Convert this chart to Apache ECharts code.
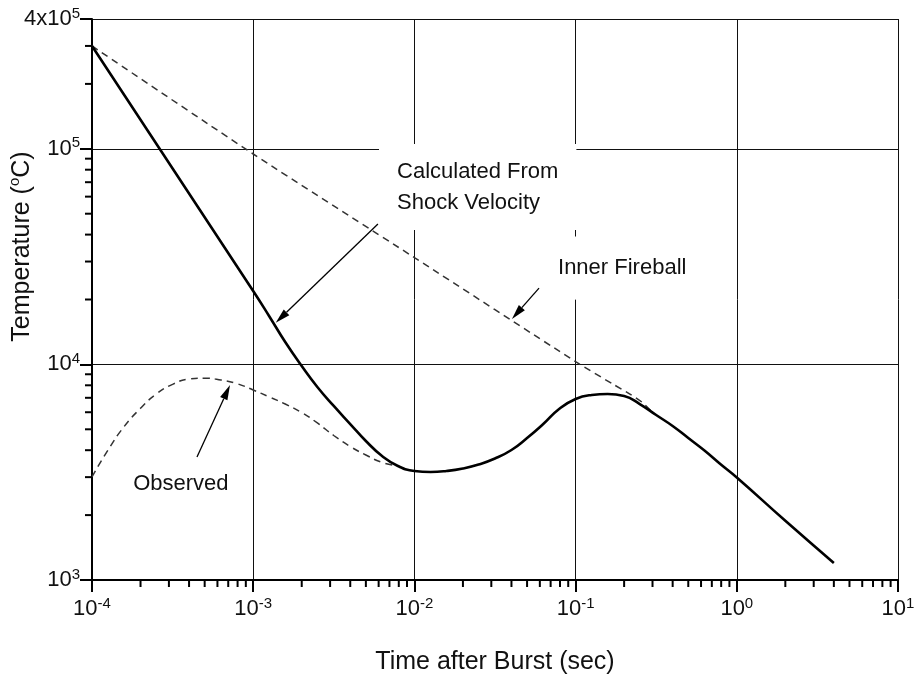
<!DOCTYPE html>
<html>
<head>
<meta charset="utf-8">
<script src="https://cdn.jsdelivr.net/npm/echarts@6/dist/echarts.min.js"></script>
<style>
  html, body { margin: 0; padding: 0; background: #fff; }
  #chart { width: 917px; height: 677px; }
</style>
</head>
<body>
<div id="chart"></div>
<script>
// Fireball temperature history: time after burst (s) vs temperature (°C)

// Calculated from shock velocity, continuing into the thermal pulse (solid)
const shockTime = [1e-4, 1e-3, 1.26e-3, 1.58e-3, 2e-3, 2.5e-3, 3.16e-3, 4e-3, 5e-3, 6.3e-3, 7.9e-3,
  1e-2, 1.26e-2, 1.58e-2, 2e-2, 2.5e-2, 3.16e-2, 4e-2, 5e-2, 6.3e-2, 7.9e-2,
  0.1, 0.126, 0.158, 0.2, 0.25, 0.316, 0.4, 0.5, 0.63, 0.79, 1, 2, 4];
const shockTemp = [3.0e5, 2.19e4, 1.668e4, 1.27e4, 9830, 7860, 6415, 5290, 4413, 3760, 3380,
  3203, 3169, 3203, 3290, 3433, 3660, 4009, 4556, 5290, 6211,
  6910, 7213, 7290, 7136, 6550, 5825, 5180, 4556, 3986, 3452, 2988, 1882, 1199];

// Inner fireball (dashed)
const innerTime = [1e-4, 1e-3, 1e-2, 0.1, 0.17, 0.22, 0.26, 0.3];
const innerTemp = [3.0e5, 9.46e4, 3.13e4, 1.03e4, 8110, 7250, 6650, 5990];

// Observed apparent temperature (dashed)
const obsTime = [1e-4, 1.26e-4, 1.58e-4, 2e-4, 2.5e-4, 3.16e-4, 4e-4, 5e-4, 6.3e-4, 7.9e-4,
  1e-3, 1.26e-3, 1.58e-3, 2e-3, 2.5e-3, 3.16e-3, 4e-3, 5e-3, 6.3e-3, 7.9e-3];
const obsTemp = [3005, 4020, 5140, 6260, 7280, 8080, 8550, 8630, 8470, 8150,
  7610, 7060, 6550, 5980, 5350, 4680, 4160, 3800, 3510, 3380];

// Minor tick values (2..9 per decade)
const xMinorTicks = [];
for (let e = -4; e <= 0; e++) for (let k = 2; k <= 9; k++) xMinorTicks.push(+(k * Math.pow(10, e)).toPrecision(3));
const yMinorTicks = [2e3, 3e3, 4e3, 5e3, 6e3, 7e3, 8e3, 9e3, 2e4, 3e4, 4e4, 5e4, 6e4, 7e4, 8e4, 9e4, 2e5, 3e5];

// Axis limits
const xMin = 1e-4, xMax = 10;
const yMin = 1e3, yMax = 4e5;

// Annotations: label text, label anchor (left-middle), arrow tail and arrow head (data units)
const noteTexts = ['Calculated From\nShock Velocity', 'Inner Fireball', 'Observed'];
const noteAt = [[7.8e-3, 6.65e4], [0.0778, 2.8e4], [1.8e-4, 2790]];
const arrowFrom = [[5.94e-3, 4.48e4], [0.0593, 2.26e4], [4.48e-4, 3720]];
const arrowTo = [[1.38e-3, 1.56e4], [0.0403, 1.625e4], [7.18e-4, 8020]];

const FONT = '"Liberation Sans", Arial, Helvetica, sans-serif';

function zip(a, b) { return a.map((v, i) => [v, b[i]]); }

function powLabel(v) {
  const e = Math.floor(Math.log10(v) + 1e-9);
  const m = Math.round(v / Math.pow(10, e));
  return (m === 1 ? '' : m + 'x') + '10{sup|' + e + '}';
}

const supStyle = { fontSize: 15, lineHeight: 12, verticalAlign: 'top', fontFamily: FONT, color: '#111' };

const chart = echarts.init(document.getElementById('chart'), null, { renderer: 'canvas' });

const option = {
  backgroundColor: '#fff',
  animation: false,
  grid: { left: 92, right: 19, top: 19, bottom: 97, containLabel: false, outerBoundsMode: 'none' },
  xAxis: {
    type: 'log', logBase: 10, min: xMin, max: xMax,
    name: 'Time after Burst (sec)', nameLocation: 'middle', nameGap: 70, nameMoveOverlap: false,
    nameTextStyle: { fontSize: 25, fontFamily: FONT, color: '#111' },
    axisLine: { show: true, onZero: false, lineStyle: { color: '#000', width: 2 } },
    axisTick: { show: true, inside: false, length: 12, lineStyle: { color: '#000', width: 2 } },
    axisLabel: {
      formatter: powLabel, margin: 16, fontSize: 22, lineHeight: 26, fontFamily: FONT, color: '#111',
      rich: { sup: supStyle }
    },
    splitLine: { show: true, lineStyle: { color: '#111', width: 1 } },
    minorTick: { show: false }
  },
  yAxis: {
    type: 'log', logBase: 10, min: yMin, max: yMax,
    name: 'Temperature ({sup|o}C)', nameLocation: 'middle', nameGap: 55, nameRotate: 90, nameMoveOverlap: false,
    nameTextStyle: {
      fontSize: 25, fontFamily: FONT, color: '#111', lineHeight: 30, padding: [0, 0, 0, 106],
      rich: { sup: { fontSize: 15, lineHeight: 14, verticalAlign: 'top', fontFamily: FONT, color: '#111' } }
    },
    axisLine: { show: true, onZero: false, lineStyle: { color: '#000', width: 2 } },
    axisTick: { show: true, inside: false, length: 12, lineStyle: { color: '#000', width: 2 } },
    axisLabel: {
      formatter: powLabel, margin: 12, fontSize: 22, lineHeight: 26, fontFamily: FONT, color: '#111',
      rich: { sup: supStyle }
    },
    splitLine: { show: true, lineStyle: { color: '#111', width: 1 } },
    minorTick: { show: false }
  },
  series: [
    {
      name: 'Inner Fireball', type: 'line', data: zip(innerTime, innerTemp),
      showSymbol: false, smooth: 0.25, silent: true, z: 3,
      lineStyle: { color: '#333', width: 1.5, type: [7, 5] }
    },
    {
      name: 'Observed', type: 'line', data: zip(obsTime, obsTemp),
      showSymbol: false, smooth: 0.5, silent: true, z: 3,
      lineStyle: { color: '#333', width: 1.5, type: [7, 5] }
    },
    {
      name: 'Calculated From Shock Velocity', type: 'line', data: zip(shockTime, shockTemp),
      showSymbol: false, smooth: 0.5, silent: true, z: 4,
      lineStyle: { color: '#000', width: 2.6 }
    },
    {
      // minor ticks along the time axis
      type: 'custom', silent: true, clip: false, z: 5,
      data: xMinorTicks.map(v => [v, yMin]),
      renderItem: function (params, api) {
        const p = api.coord([api.value(0), yMin]);
        return { type: 'line', shape: { x1: p[0], y1: p[1], x2: p[0], y2: p[1] + 7 },
          style: { stroke: '#000', lineWidth: 2 } };
      }
    },
    {
      // minor ticks along the temperature axis
      type: 'custom', silent: true, clip: false, z: 5,
      data: yMinorTicks.map(v => [xMin, v]),
      renderItem: function (params, api) {
        const p = api.coord([xMin, api.value(1)]);
        return { type: 'line', shape: { x1: p[0] - 7, y1: p[1], x2: p[0], y2: p[1] },
          style: { stroke: '#000', lineWidth: 2 } };
      }
    },
    {
      // callout labels with arrows
      type: 'custom', silent: true, clip: false, z: 6,
      data: noteTexts.map((t, i) => [noteAt[i][0], noteAt[i][1]]),
      renderItem: function (params, api) {
        const i = params.dataIndex;
        const at = api.coord(noteAt[i]);
        const a = api.coord(arrowFrom[i]);
        const b = api.coord(arrowTo[i]);
        const dx = b[0] - a[0], dy = b[1] - a[1];
        const len = Math.sqrt(dx * dx + dy * dy);
        const ux = dx / len, uy = dy / len;
        const headLen = 15, headHalf = 4;
        const bx = b[0] - ux * headLen, by = b[1] - uy * headLen;
        const pad = i === 0 ? [12, 18, 12, 18] : (i === 1 ? [16, 8, 16, 8] : [4, 4, 4, 4]);
        return {
          type: 'group',
          children: [
            {
              type: 'text', x: at[0] - pad[3], y: at[1],
              style: {
                text: noteTexts[i], fill: '#111', fontSize: 22, fontFamily: FONT,
                lineHeight: 31, verticalAlign: 'middle', align: 'left',
                backgroundColor: '#fff', padding: pad
              }
            },
            {
              type: 'line', shape: { x1: a[0], y1: a[1], x2: bx, y2: by },
              style: { stroke: '#000', lineWidth: 1.3 }
            },
            {
              type: 'polygon',
              shape: { points: [[b[0], b[1]], [bx - uy * headHalf, by + ux * headHalf], [bx + uy * headHalf, by - ux * headHalf]] },
              style: { fill: '#000' }
            }
          ]
        };
      }
    }
  ]
};

chart.setOption(option);
</script>
</body>
</html>
